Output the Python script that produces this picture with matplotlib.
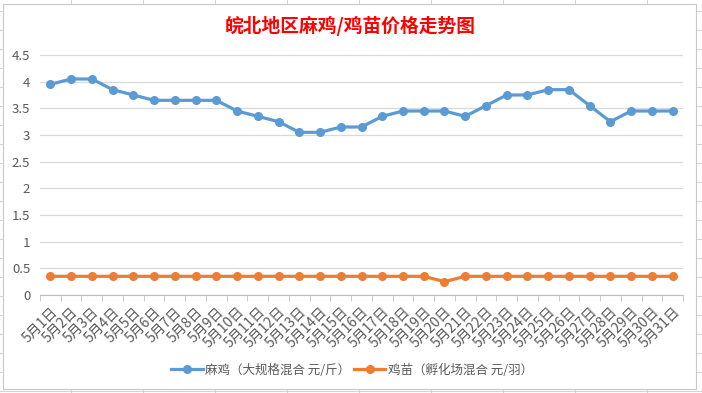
import matplotlib.pyplot as plt
from matplotlib.patches import Rectangle
from matplotlib.lines import Line2D

plt.rcParams['font.family'] = ['Noto Sans CJK SC', 'DejaVu Sans']

# data
days = [f"5月{d}日" for d in range(1, 32)]
maji = [3.95, 4.05, 4.05, 3.85, 3.75, 3.65, 3.65, 3.65, 3.65, 3.45,
        3.35, 3.25, 3.05, 3.05, 3.15, 3.15, 3.35, 3.45, 3.45, 3.45,
        3.35, 3.55, 3.75, 3.75, 3.85, 3.85, 3.55, 3.25, 3.45, 3.45, 3.45]
jimiao = [0.35] * 19 + [0.25] + [0.35] * 11
y_ticks = [0, 0.5, 1, 1.5, 2, 2.5, 3, 3.5, 4, 4.5]
y_labels = ["0", "0.5", "1", "1.5", "2", "2.5", "3", "3.5", "4", "4.5"]

title = "皖北地区麻鸡/鸡苗价格走势图"
name_maji = "麻鸡（大规格混合 元/斤）"
name_jimiao = "鸡苗（孵化场混合 元/羽）"

blue = "#5B9BD5"
orange = "#ED7D31"
grid_c = "#D9D9D9"
text_c = "#595959"

W, H = 702, 393
fig = plt.figure(figsize=(W / 100, H / 100), dpi=100)

# spreadsheet cell grid behind the chart
bg = fig.add_axes([0, 0, 1, 1])
bg.set_xlim(0, W)
bg.set_ylim(H, 0)
bg.axis('off')
for x in range(-1, W, 72):
    bg.axvline(x, color="#D4D4D4", lw=0.8, zorder=1)
for y in range(11, H, 19):
    bg.axhline(y, color="#D4D4D4", lw=0.8, zorder=1)
bg.add_patch(Rectangle((3, 4), 693, 385, facecolor="white",
                       edgecolor="#C8C8C8", lw=0.8, zorder=5))

ax = fig.add_axes([40 / W, 1 - 295 / H, 643 / W, 240 / H])
ax.patch.set_alpha(0)
x = list(range(len(days)))
ax.plot(x, maji, color=blue, lw=2.3, marker='o', ms=5.5, zorder=3)
ax.plot(x, jimiao, color=orange, lw=2.3, marker='o', ms=5.5, zorder=3)

ax.set_xlim(-0.5, len(days) - 0.5)
ax.set_ylim(0, 4.5)
ax.set_yticks(y_ticks)
ax.set_yticklabels(y_labels)
ax.yaxis.grid(True, color=grid_c, lw=0.9)
ax.set_axisbelow(True)
ax.tick_params(axis='y', length=0, pad=7, labelsize=9.5, labelcolor=text_c)

ax.set_xticks(x)
ax.set_xticklabels(days, rotation=45, ha='right', rotation_mode='anchor')
ax.set_xticks([i - 0.5 for i in range(len(days) + 1)], minor=True)
ax.tick_params(axis='x', which='major', length=0, pad=7, labelsize=10,
               labelcolor=text_c)
ax.tick_params(axis='x', which='minor', length=4, color="#BFBFBF")

for s in ['top', 'right', 'left']:
    ax.spines[s].set_visible(False)
ax.spines['bottom'].set_color("#BFBFBF")

fig.text(350 / W, 1 - 26 / H, title, color="red", fontsize=13.5,
         fontweight='bold', ha='center', va='center')

handles = [Line2D([], [], color=blue, lw=2.3, marker='o', ms=5.5),
           Line2D([], [], color=orange, lw=2.3, marker='o', ms=5.5)]
fig.legend(handles, [name_maji, name_jimiao], loc='center',
           bbox_to_anchor=(352 / W, 1 - 370 / H), ncol=2, frameon=False,
           fontsize=9, labelcolor=text_c, handlelength=2.5,
           handletextpad=0.2, columnspacing=0.3)

fig.savefig("out.png", dpi=100)
